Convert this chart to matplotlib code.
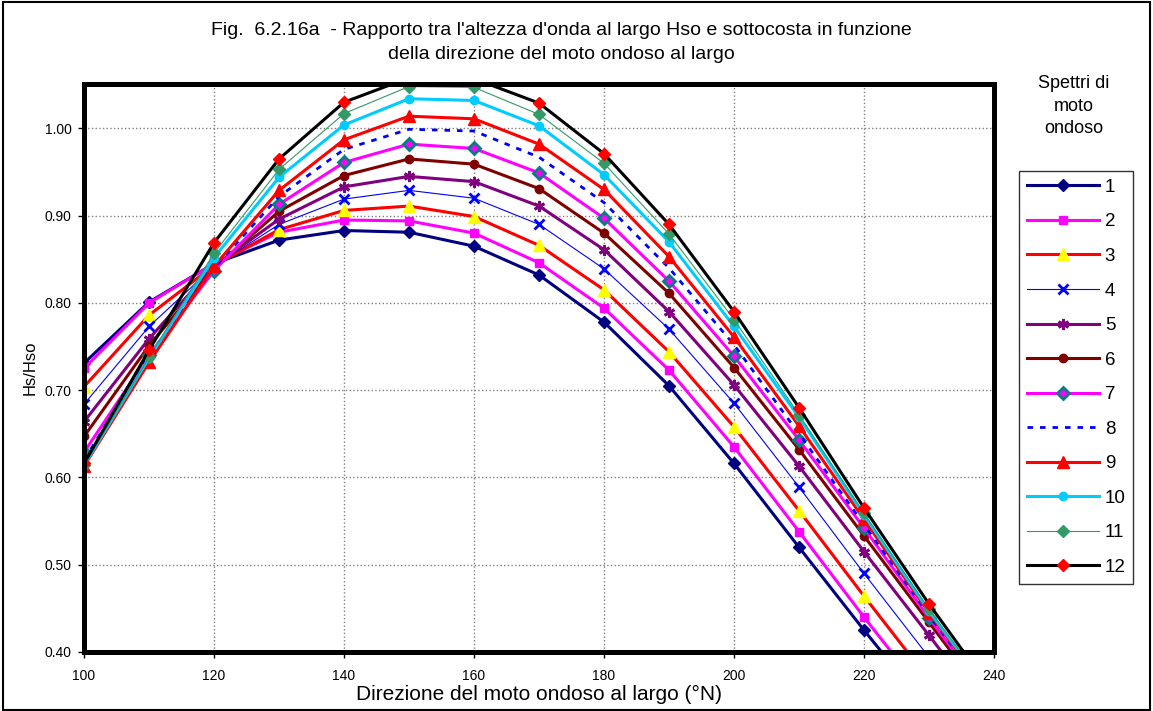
import matplotlib
matplotlib.use("Agg")
import matplotlib.pyplot as plt
from matplotlib.patches import Rectangle

plt.rcParams['font.family'] = ['Liberation Sans', 'DejaVu Sans']

# Offshore wave direction (°N)
direction = [100, 110, 120, 130, 140, 150, 160, 170, 180, 190, 200, 210, 220, 230, 240]

# Hs/Hso ratio for each wave spectrum (1..12)
s1 = [0.731, 0.801, 0.845, 0.872, 0.883, 0.881, 0.865, 0.832, 0.778, 0.705, 0.616, 0.520, 0.425, 0.333, 0.245]
s2 = [0.725, 0.800, 0.845, 0.881, 0.895, 0.894, 0.880, 0.846, 0.794, 0.723, 0.635, 0.538, 0.440, 0.345, 0.255]
s3 = [0.704, 0.786, 0.843, 0.884, 0.906, 0.911, 0.899, 0.866, 0.815, 0.744, 0.658, 0.562, 0.464, 0.368, 0.275]
s4 = [0.684, 0.773, 0.842, 0.890, 0.919, 0.929, 0.920, 0.890, 0.839, 0.770, 0.685, 0.589, 0.490, 0.394, 0.300]
s5 = [0.664, 0.759, 0.842, 0.896, 0.933, 0.945, 0.939, 0.911, 0.861, 0.790, 0.706, 0.613, 0.515, 0.419, 0.322]
s6 = [0.647, 0.751, 0.840, 0.905, 0.946, 0.965, 0.959, 0.931, 0.880, 0.811, 0.726, 0.632, 0.533, 0.434, 0.335]
s7 = [0.629, 0.740, 0.837, 0.913, 0.961, 0.982, 0.977, 0.949, 0.897, 0.825, 0.739, 0.643, 0.542, 0.439, 0.340]
s8 = [0.620, 0.740, 0.840, 0.922, 0.976, 0.999, 0.997, 0.967, 0.915, 0.840, 0.752, 0.650, 0.546, 0.442, 0.343]
s9 = [0.613, 0.732, 0.842, 0.929, 0.987, 1.014, 1.011, 0.982, 0.930, 0.853, 0.761, 0.659, 0.552, 0.445, 0.345]
s10 = [0.614, 0.737, 0.852, 0.944, 1.004, 1.034, 1.032, 1.003, 0.947, 0.870, 0.773, 0.669, 0.557, 0.447, 0.347]
s11 = [0.614, 0.738, 0.857, 0.953, 1.017, 1.048, 1.047, 1.016, 0.960, 0.879, 0.781, 0.672, 0.559, 0.449, 0.348]
s12 = [0.616, 0.746, 0.869, 0.965, 1.030, 1.058, 1.057, 1.029, 0.971, 0.890, 0.790, 0.680, 0.565, 0.455, 0.352]

series_labels = ['1', '2', '3', '4', '5', '6', '7', '8', '9', '10', '11', '12']
x_ticks = [100, 120, 140, 160, 180, 200, 220, 240]
y_ticks = [0.40, 0.50, 0.60, 0.70, 0.80, 0.90, 1.00]

series = [s1, s2, s3, s4, s5, s6, s7, s8, s9, s10, s11, s12]

styles = [
    dict(color='#000080', lw=2.2, marker='D', ms=6, mfc='#000080', mec='#000080'),
    dict(color='#FF00FF', lw=2.2, marker='s', ms=6, mfc='#FF00FF', mec='#FF00FF'),
    dict(color='#FF0000', lw=2.2, marker='^', ms=8, mfc='#FFFF00', mec='#FFFF00'),
    dict(color='#0000FF', lw=0.8, marker='x', ms=7, mew=2, mec='#0000FF'),
    dict(color='#800080', lw=2.2, marker=(6, 2, 0), ms=8, mew=2, mec='#800080'),
    dict(color='#800000', lw=2.2, marker='o', ms=6, mfc='#800000', mec='#800000'),
    dict(color='#FF00FF', lw=2.2, marker='D', ms=6, mfc='#FF00FF', mec='#008080', mew=2),
    dict(color='#0000FF', lw=2.0, dashes=(2, 2.5)),
    dict(color='#FF0000', lw=2.2, marker='^', ms=8, mfc='#FF0000', mec='#FF0000'),
    dict(color='#00CCFF', lw=2.2, marker='o', ms=6, mfc='#00CCFF', mec='#00CCFF'),
    dict(color='#339966', lw=0.8, marker='D', ms=6, mfc='#339966', mec='#339966'),
    dict(color='#000000', lw=2.2, marker='D', ms=6, mfc='#FF0000', mec='#FF0000'),
]

fig = plt.figure(figsize=(11.53, 7.11), dpi=100)
ax = fig.add_axes([0.0729, 0.083, 0.7892, 0.799])

for vals, lab, st in zip(series, series_labels, styles):
    ax.plot(direction, vals, label=lab, **st)

ax.set_xlim(100, 240)
ax.set_ylim(0.40, 1.051)
ax.set_xticks(x_ticks)
ax.set_yticks(y_ticks)
ax.set_yticklabels([f"{v:.2f}" for v in y_ticks])
ax.tick_params(axis='both', direction='out', length=4, width=1, labelsize=10)
ax.tick_params(axis='x', pad=8)
ax.tick_params(axis='y', pad=5)
ax.grid(True, color='#808080', linestyle=':', linewidth=1)
ax.set_axisbelow(True)
for sp in ax.spines.values():
    sp.set_linewidth(3.6)
    sp.set_color('black')
    sp.set_zorder(5)

ax.set_xlabel("Direzione del moto ondoso al largo (°N)", fontsize=15, labelpad=2)
ax.set_ylabel("Hs/Hso", fontsize=12, labelpad=5)

fig.text(0.487, 0.969, "Fig.  6.2.16a  - Rapporto tra l'altezza d'onda al largo Hso e sottocosta in funzione\n"
         "della direzione del moto ondoso al largo",
         ha='center', va='top', fontsize=14, linespacing=1.5)

fig.text(0.931, 0.895, "Spettri di\nmoto\nondoso", ha='center', va='top',
         fontsize=13, linespacing=1.45)

leg = ax.legend(loc='upper left', bbox_to_anchor=(1.0275, 0.847), fontsize=13.5,
                handlelength=3.85, labelspacing=0.93, borderpad=0.42,
                handletextpad=0.3, frameon=True, fancybox=False,
                edgecolor='black', borderaxespad=0)
leg.get_frame().set_linewidth(1)

fig.add_artist(Rectangle((0.003, 0.002), 0.994, 0.995, transform=fig.transFigure,
                         fill=False, edgecolor='black', linewidth=1.5))

fig.savefig("out.png", dpi=100)
